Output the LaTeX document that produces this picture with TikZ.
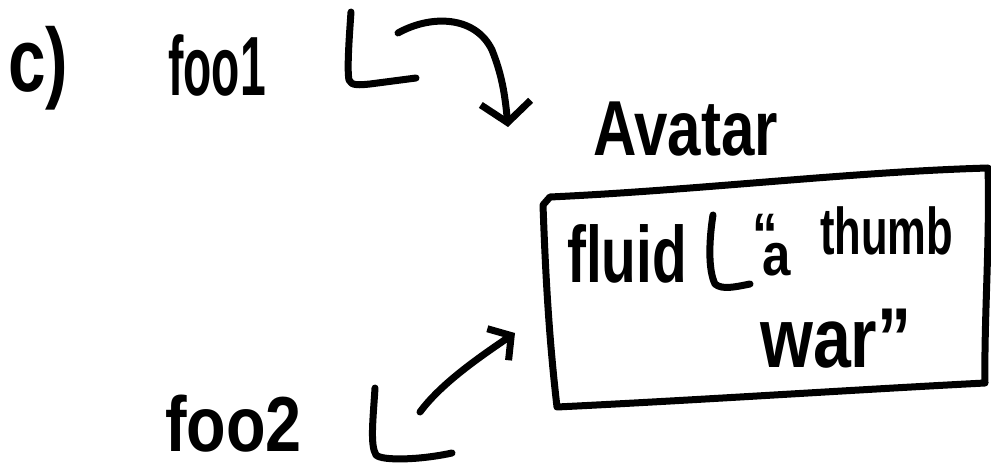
\documentclass[tikz,border=0pt]{standalone}
\usepackage{fontspec}
\setmainfont{Liberation Sans}
\usepackage{graphicx}
\usetikzlibrary{arrows.meta}
\tikzset{
  ink/.style={line width=7pt, line cap=round, line join=round},
  txt/.style={inner sep=0pt, anchor=base west, font=\bfseries},
  barbA/.style={-{Straight Barb[length=20pt,width=50pt]}},
  barbB/.style={-{Straight Barb[length=16pt,width=38pt]}},
}
\newcommand{\hwtext}[3]{\fontsize{#1}{#1}\selectfont\scalebox{#2}[1]{#3}}
\begin{document}
\begin{tikzpicture}[x=1pt,y=-1pt]
\useasboundingbox (0,0) rectangle (991,470);
% labels
\node[txt] (c)    at (8,92)    {\hwtext{90}{0.75}{c)}};
\node[txt] (foo1) at (168,96)  {\hwtext{84}{0.55}{foo1}};
\node[txt] (foo2) at (165,451) {\hwtext{78}{0.83}{foo2}};
\node[txt] (avatar) at (593,156) {\hwtext{78}{0.77}{Avatar}};
% box
\coordinate (b1) at (550,197);
\coordinate (b2) at (988,168);
\coordinate (b3) at (985,383);
\coordinate (b4) at (557,407);
\draw[ink] (b1) .. controls (700,190) and (850,172) .. (b2)
           .. controls (990,240) and (984,320) .. (b3)
           .. controls (850,390) and (700,400) .. (b4)
           .. controls (548,330) and (545,260) .. (543,205) -- (b1);
% box content
\node[txt] (fluid) at (567,283) {\hwtext{80}{0.71}{fluid}};
\draw[ink] (713,215) .. controls (709,240) and (708,270) .. (715,284)
           .. controls (722,290) and (735,287) .. (750,284);
\node[txt] (qa)    at (752,256) {\hwtext{60}{0.85}{“\kern-0.3em\raisebox{-20pt}{a}}};
\node[txt] (thumb) at (820,255) {\hwtext{66}{0.66}{thumb}};
\node[txt] (war)   at (760,367) {\hwtext{85}{0.8}{war”}};
% pointer L shapes
\coordinate (l1top) at (351,12);
\coordinate (l1end) at (416,78);
\draw[ink] (l1top) .. controls (349,40) and (347,70) .. (349,80)
           .. controls (351,86) and (360,85) .. (370,84) -- (l1end);
\coordinate (l2top) at (375,388);
\coordinate (l2end) at (452,453);
\draw[ink] (l2top) .. controls (373,420) and (370,445) .. (376,455)
           .. controls (382,461) and (420,460) .. (l2end);
% arrows
\coordinate (a1s) at (398,33);
\coordinate (a1e) at (508,127);
\draw[ink, barbA] (a1s) .. controls (430,15) and (475,15) .. (492,50)
           .. controls (502,75) and (505,95) .. (a1e);
\coordinate (a2s) at (420,412);
\coordinate (a2e) at (515,333);
\draw[ink, barbB] (a2s) .. controls (440,385) and (475,360) .. (a2e);
\end{tikzpicture}
\end{document}
